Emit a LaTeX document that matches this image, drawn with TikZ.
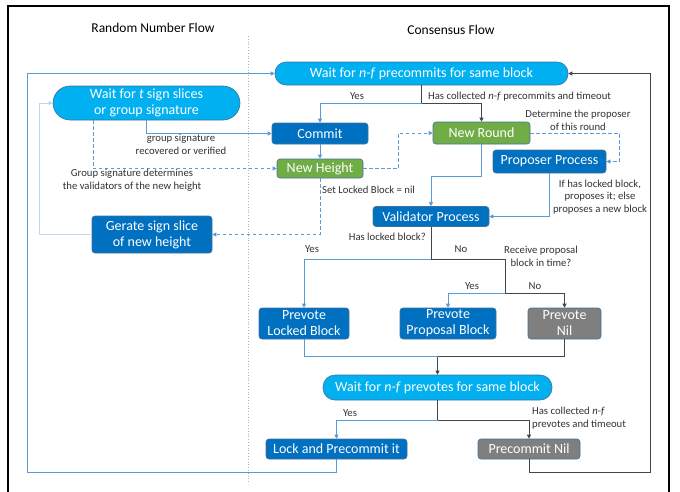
\documentclass[tikz,border=0pt]{standalone}
\usepackage{fontspec}
\setmainfont{Carlito}
\usepackage{tikz}
\usetikzlibrary{positioning,arrows.meta,calc}
\definecolor{rnCyan}{RGB}{0,176,240}
\definecolor{rnBlue}{RGB}{0,112,192}
\definecolor{rnGreen}{RGB}{112,173,71}
\definecolor{rnGray}{RGB}{127,127,127}
\definecolor{rnEdge}{RGB}{65,113,156}
\definecolor{rnLine}{RGB}{91,155,213}
\definecolor{rnPale}{RGB}{189,215,238}
\definecolor{rnDark}{RGB}{70,70,70}
\definecolor{rnText}{RGB}{50,50,50}

\begin{document}
\begin{tikzpicture}[x=1pt, y=-1pt,
  box/.style={draw=rnEdge, line width=0.6pt, text=white, align=center, inner sep=0pt,
    font=\fontsize{14}{16}\selectfont},
  capsule/.style={box, fill=rnCyan, rounded corners=#1},
  procbox/.style={box, fill=rnBlue, rounded corners=3pt},
  greenbox/.style={box, fill=rnGreen, rounded corners=3pt},
  graybox/.style={box, fill=rnGray, rounded corners=3pt},
  lbl/.style={font=\fontsize{10.7}{12.8}\selectfont, text=rnText, inner sep=1pt, align=center},
  tip/.style={-{Triangle[length=4pt,width=4pt]}},
  yesline/.style={rnLine, line width=0.9pt, tip},
  noline/.style={rnDark, line width=0.8pt, tip},
  dashline/.style={rnLine, line width=1pt, dash pattern=on 3.5pt off 2.5pt, tip},
  paleline/.style={rnPale, line width=1pt, -{Triangle[length=4pt,width=4pt,fill=rnLine]}}
]
  \useasboundingbox (0,0) rectangle (680,491);

  % Frame and columns
  \draw[black, line width=1.6pt] (8,495) -- (8,6) -- (669,6) -- (669,495);
  \draw[gray!60, dotted, line width=0.8pt] (248,36) -- (248,484);
  \node[font=\fontsize{13.5}{15}\selectfont] (titleR) at (153,28) {Random Number Flow};
  \node[font=\fontsize{13.5}{15}\selectfont] (titleC) at (451,30) {Consensus Flow};

  % Random number flow
  \node[capsule=17pt, minimum width=187pt, minimum height=34pt] (wts) at (146.5,103)
    {Wait for \textit{t} sign slices\\or group signature};
  \node[procbox, minimum width=120pt, minimum height=37pt] (gensig) at (152,234.5)
    {Gerate sign slice\\of new height};

  % Consensus flow
  \node[capsule=11pt, minimum width=293pt, minimum height=23pt] (wpc) at (421.5,73.5)
    {Wait for \textit{n-f} precommits for same block};
  \node[procbox, minimum width=96pt, minimum height=21pt] (commit) at (320,133.5) {Commit};
  \node[greenbox, minimum width=97pt, minimum height=22pt] (newround) at (481.5,133) {New Round};
  \node[greenbox, minimum width=86pt, minimum height=19pt] (newheight) at (320,168.5) {New Height};
  \node[procbox, minimum width=113pt, minimum height=23pt] (proposer) at (549.5,161.5) {Proposer Process};
  \node[procbox, minimum width=116pt, minimum height=20pt] (validator) at (431,216.5) {Validator Process};
  \node[procbox, minimum width=90pt, minimum height=31pt] (pvlocked) at (304,323.5) {Prevote\\Locked Block};
  \node[procbox, minimum width=96pt, minimum height=31pt] (pvprop) at (448,323.5) {Prevote\\Proposal Block};
  \node[graybox, minimum width=73pt, minimum height=31pt] (pvnil) at (564.5,323.5) {Prevote\\Nil};
  \node[capsule=12pt, minimum width=229pt, minimum height=25pt] (wpv) at (437.5,387.5)
    {Wait for \textit{n-f} prevotes for same block};
  \node[procbox, minimum width=141pt, minimum height=20pt] (lockpc) at (336.5,449) {Lock and Precommit it};
  \node[graybox, minimum width=102pt, minimum height=20pt] (pcnil) at (529,449) {Precommit Nil};

  % Junctions and loop corners
  \coordinate (j1) at ($(wpc.south)+(0,18)$);
  \coordinate (j2) at ($(validator.south)+(0,33)$);
  \coordinate (j3) at ($(j2)+(74,34)$);
  \coordinate (j4) at ($(wpv.north)+(0,-18)$);
  \coordinate (j5) at ($(wpv.south)+(0,20)$);
  \coordinate (lbot) at (27,472);
  \coordinate (rbot) at (650,472);

  % Precommit stage
  \draw[noline] (wpc.south) -- (j1) -| (newround.north);
  \draw[yesline] (j1) -| (commit.north);
  \node[lbl] (yes1) at (357,96) {Yes};
  \node[lbl, anchor=west] (tmo1) at (427,96.5) {Has collected \textit{n-f} precommits and timeout};

  % Signatures
  \draw[yesline] (wts.south) |- (commit.west);
  \node[lbl] (gsig) at (181,144) {group signature\\recovered or verified};
  \draw[dashline] ([xshift=-53.5pt]wts.south) |- (newheight.west);
  \node[lbl] (gdet) at (132,180) {Group signature determines\\the validators of the new height};
  \draw[yesline] (commit.south) -- (newheight.north);
  \draw[dashline] (newheight.east) -- ++(35,0) |- (newround.west);
  \draw[dashline] (newheight.south) |- (gensig.east);
  \node[lbl, anchor=west] (setnil) at (321,190) {Set Locked Block = nil};
  \draw[paleline] (gensig.west) -- ++(-52,0) |- (wts.west);

  % Round
  \draw[dashline] (newround.east) -- ++(89,0) |- (proposer.east);
  \node[lbl] (detp) at (578,120.5) {Determine the proposer\\of this round};
  \draw[yesline] (newround.south) -- ++(0,32) -| (validator.north);
  \draw[yesline] (proposer.south) |- (validator.east);
  \node[lbl] (ifl) at (600,197) {If has locked block,\\proposes it; else\\proposes a new block};

  % Prevote stage
  \draw[noline] (validator.south) -- (j2) -| (j3) -| (pvnil.north);
  \draw[yesline] (j2) -| (pvlocked.north);
  \draw[yesline] (j3) -| (pvprop.north);
  \node[lbl, anchor=east] (hasl) at (427,237) {Has locked block?};
  \node[lbl] (yes2) at (312,249) {Yes};
  \node[lbl] (no2) at (461,249) {No};
  \node[lbl] (rcv) at (541,256) {Receive proposal\\block in time?};
  \node[lbl] (yes3) at (472,286) {Yes};
  \node[lbl] (no3) at (535,286) {No};
  \draw[rnLine, line width=0.9pt] (pvlocked.south) |- (j4);
  \draw[rnDark, line width=0.8pt] (pvnil.south) |- (j4);
  \draw[noline] (j4) -- (wpv.north);

  % Precommit decision
  \draw[noline] (wpv.south) -- (j5) -| (pcnil.north);
  \draw[yesline] (j5) -| (lockpc.north);
  \node[lbl] (yes4) at (350,413) {Yes};
  \node[lbl, anchor=north west, align=left] (tmo2) at (531,406) {Has collected \textit{n-f}\\prevotes and timeout};

  % Back to the top
  \draw[yesline] (lockpc.south) |- (lbot) |- (wpc.west);
  \draw[noline] (pcnil.south) |- (rbot) |- (wpc.east);
\end{tikzpicture}
\end{document}
